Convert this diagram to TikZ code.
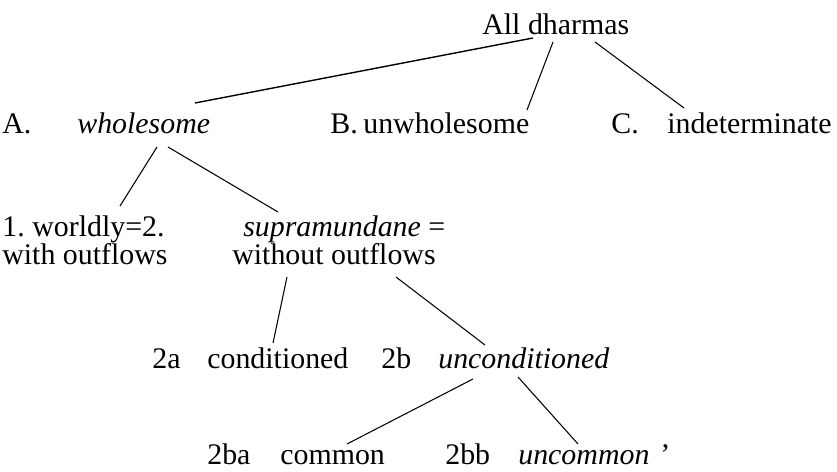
\documentclass[tikz,border=0pt]{standalone}
\usepackage{fontspec}
\setmainfont{Liberation Serif}

\begin{document}
\begin{tikzpicture}[lbl/.style={anchor=base west, inner sep=0pt}, font=\fontsize{17}{20}\selectfont]
    \useasboundingbox (0,0) rectangle (16.74,9.44);

    % 根
    \node[lbl] (all) at (9.64,8.74) {All dharmas};

    % 第一层
    \node[lbl] (labA) at (0.04,6.76) {A.};
    \node[lbl] (wholesome) at (1.54,6.76) {\textit{wholesome}};
    \node[lbl] (labB) at (6.60,6.76) {B.};
    \node[lbl] (unwholesome) at (7.26,6.76) {unwholesome};
    \node[lbl] (labC) at (12.22,6.76) {C.};
    \node[lbl] (indeterminate) at (13.34,6.76) {indeterminate};

    % 第二层
    \node[lbl] (lab1) at (0.04,4.70) {1.};
    \node[lbl] (worldly) at (0.64,4.70) {worldly=2.};
    \node[lbl] (supra) at (4.86,4.70) {\textit{supramundane} =};
    \node[lbl] (withflows) at (0.04,4.14) {with outflows};
    \node[lbl] (without) at (4.64,4.14) {without outflows};

    % 第三层
    \node[lbl] (lab2a) at (3.04,2.06) {2a};
    \node[lbl] (conditioned) at (4.14,2.06) {conditioned};
    \node[lbl] (lab2b) at (7.62,2.06) {2b};
    \node[lbl] (uncond) at (8.76,2.06) {\textit{unconditioned}};

    % 第四层
    \node[lbl] (lab2ba) at (4.14,0.14) {2ba};
    \node[lbl] (common) at (5.60,0.14) {common};
    \node[lbl] (lab2bb) at (8.90,0.14) {2bb};
    \node[lbl] (uncommon) at (10.36,0.14) {\textit{uncommon}\hspace{0.22cm}'};

    % 连线
    \draw[line width=0.8pt] ([xshift=1.02cm,yshift=-0.06cm]all.base west) -- ([xshift=2.36cm,yshift=0.62cm]wholesome.base west);
    \draw[line width=0.6pt] ([xshift=1.42cm,yshift=-0.14cm]all.base west) -- ([xshift=3.28cm,yshift=0.48cm]unwholesome.base west);
    \draw[line width=0.6pt] ([xshift=2.26cm,yshift=-0.14cm]all.base west) -- ([xshift=0.34cm,yshift=0.52cm]indeterminate.base west);

    \draw[line width=0.6pt] ([xshift=1.60cm,yshift=-0.26cm]wholesome.base west) -- ([xshift=1.76cm,yshift=0.62cm]worldly.base west);
    \draw[line width=0.6pt] ([xshift=1.82cm,yshift=-0.26cm]wholesome.base west) -- ([xshift=0.70cm,yshift=0.50cm]supra.base west);

    \draw[line width=0.6pt] ([xshift=1.10cm,yshift=-0.24cm]without.base west) -- ([xshift=1.32cm,yshift=0.52cm]conditioned.base west);
    \draw[line width=0.6pt] ([xshift=3.28cm,yshift=-0.24cm]without.base west) -- ([xshift=0.94cm,yshift=0.48cm]uncond.base west);

    \draw[line width=0.6pt] ([xshift=0.70cm,yshift=-0.20cm]uncond.base west) -- ([xshift=1.34cm,yshift=0.42cm]common.base west);
    \draw[line width=0.6pt] ([xshift=1.60cm,yshift=-0.16cm]uncond.base west) -- ([xshift=1.20cm,yshift=0.42cm]uncommon.base west);
\end{tikzpicture}
\end{document}
